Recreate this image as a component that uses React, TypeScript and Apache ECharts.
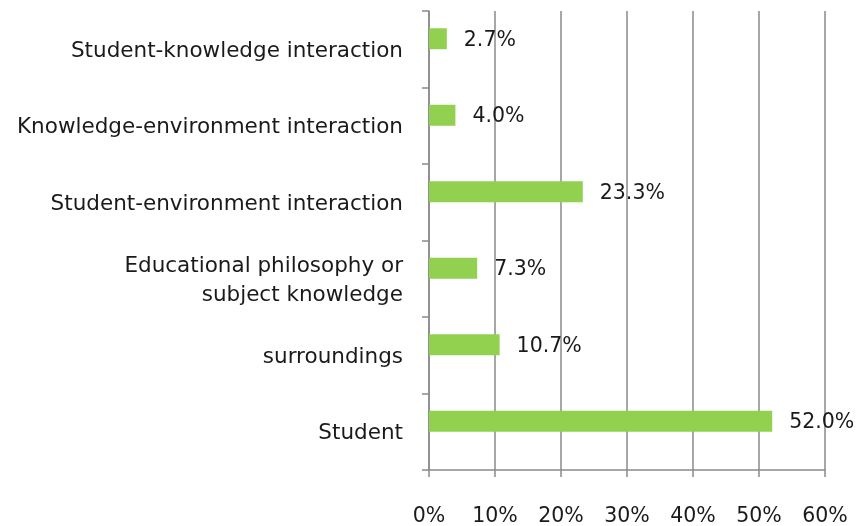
import React, { useEffect, useRef } from "react";
import * as echarts from "echarts";

const categories = [
  "Student",
  "surroundings",
  "Educational philosophy or\nsubject knowledge",
  "Student-environment interaction",
  "Knowledge-environment interaction",
  "Student-knowledge interaction",
];
const values = [52.0, 10.7, 7.3, 23.3, 4.0, 2.7];
const xTicks = [0, 10, 20, 30, 40, 50, 60];
const emptySeries: number[] = [];

export default function App() {
  const ref = useRef<HTMLDivElement>(null);
  useEffect(() => {
    const chart = echarts.init(ref.current!, null, { renderer: "svg" });
    const font = "'DejaVu Sans', sans-serif";
    chart.setOption({
      animation: false,
      grid: { left: 429, right: 33, top: 11, bottom: 56, containLabel: false },
      xAxis: {
        type: "value",
        min: xTicks[0],
        max: xTicks[xTicks.length - 1],
        interval: 10,
        axisLine: { show: true, lineStyle: { color: "#8a8a8a", width: 1.5 } },
        axisTick: { show: true, length: 7, inside: false, lineStyle: { color: "#8a8a8a", width: 1.5 } },
        splitLine: { show: true, lineStyle: { color: "#8a8a8a", width: 1.5 } },
        axisLabel: {
          margin: 34,
          formatter: (v: number) => `${v}%`,
          color: "#1a1a1a",
          fontFamily: font,
          fontSize: 20.5,
        },
      },
      yAxis: {
        type: "category",
        data: categories,
        axisLine: { show: true, lineStyle: { color: "#8a8a8a", width: 1.5 } },
        axisTick: { show: true, length: 7, inside: false, lineStyle: { color: "#8a8a8a", width: 1.5 } },
        axisLabel: {
          margin: 26,
          color: "#1a1a1a",
          fontFamily: font,
          fontSize: 21.5,
          lineHeight: 29,
          align: "right",
        },
      },
      series: [
        {
          type: "bar",
          data: values,
          barWidth: 21,
          barGap: "0%",
          itemStyle: { color: "#92D050" },
          label: {
            show: true,
            position: "right",
            distance: 17,
            formatter: (p: any) => `${p.value.toFixed(1)}%`,
            color: "#1a1a1a",
            fontFamily: font,
            fontSize: 20.5,
          },
        },
        {
          type: "bar",
          data: emptySeries,
          barWidth: 21,
          barGap: "0%",
        },
      ],
    });
    return () => chart.dispose();
  }, []);
  return (
    <div
      ref={ref}
      style={{ position: "fixed", left: 0, top: 0, width: 858, height: 526 }}
    />
  );
}
